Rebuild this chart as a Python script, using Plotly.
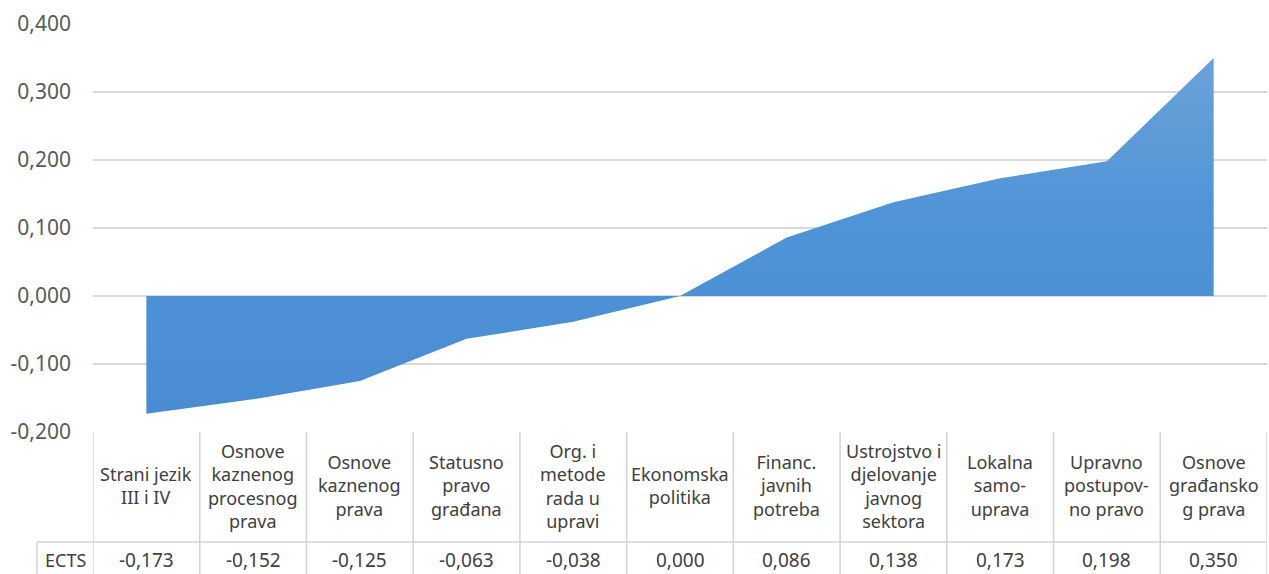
import plotly.graph_objects as go

categories = [
    "Strani jezik<br>III i IV",
    "Osnove<br>kaznenog<br>procesnog<br>prava",
    "Osnove<br>kaznenog<br>prava",
    "Statusno<br>pravo<br>građana",
    "Org. i<br>metode<br>rada u<br>upravi",
    "Ekonomska<br>politika",
    "Financ.<br>javnih<br>potreba",
    "Ustrojstvo i<br>djelovanje<br>javnog<br>sektora",
    "Lokalna<br>samo-<br>uprava",
    "Upravno<br>postupov-<br>no pravo",
    "Osnove<br>građansko<br>g prava",
]
ects = [-0.173, -0.152, -0.125, -0.063, -0.038, 0.000, 0.086, 0.138, 0.173, 0.198, 0.350]
series_name = "ECTS"
y_tickvals = [-0.2, -0.1, 0.0, 0.1, 0.2, 0.3, 0.4]
y_ticktext = ["-0,200", "-0,100", "0,000", "0,100", "0,200", "0,300", "0,400"]

FONT = "Noto Sans"
TXT = "#404040"
GRID = "#d9d9d9"
TBL = "#d4d4d4"

xs = list(range(len(categories)))

fig = go.Figure()
fig.add_trace(go.Scatter(
    x=xs, y=ects, mode="lines", fill="tozeroy",
    line=dict(width=0, color="#4f93d6"),
    fillgradient=dict(type="vertical",
                      colorscale=[[0, "#4a8cd2"], [0.55, "#4f94d7"], [1, "#6aa2d8"]]),
    name=series_name, showlegend=False, hoverinfo="skip",
))

# Table geometry (paper coords outside the plot area)
row_sep = -0.2696
tbl_bottom = -0.36
label_mid = -0.132
value_mid = -0.313
ects_left_paper = -0.0477

shapes = []
for i in range(len(categories) + 1):
    shapes.append(dict(type="line", xref="x", yref="paper", x0=i - 0.5, x1=i - 0.5,
                       y0=0, y1=tbl_bottom, line=dict(color=TBL, width=1.5), layer="below"))
shapes.append(dict(type="line", xref="paper", yref="paper", x0=ects_left_paper, x1=1,
                   y0=row_sep, y1=row_sep, line=dict(color=TBL, width=1.5), layer="below"))
shapes.append(dict(type="line", xref="paper", yref="paper", x0=ects_left_paper, x1=ects_left_paper,
                   y0=row_sep, y1=tbl_bottom, line=dict(color=TBL, width=1.5), layer="below"))

annotations = []
for i, (c, v) in enumerate(zip(categories, ects)):
    annotations.append(dict(x=i, y=label_mid, xref="x", yref="paper", text=c, showarrow=False,
                            font=dict(family=FONT, size=18, color=TXT), align="center",
                            xanchor="center", yanchor="middle"))
    annotations.append(dict(x=i, y=value_mid, xref="x", yref="paper",
                            text=f"{v:.3f}".replace(".", ","), showarrow=False,
                            font=dict(family=FONT, size=19, color=TXT),
                            xanchor="center", yanchor="middle"))
annotations.append(dict(x=ects_left_paper / 2, y=value_mid, xref="paper", yref="paper",
                        text=series_name, showarrow=False,
                        font=dict(family=FONT, size=18, color=TXT),
                        xanchor="center", yanchor="middle"))

fig.update_layout(
    width=1269, height=574,
    margin=dict(l=93, r=2, t=24, b=142),
    paper_bgcolor="white", plot_bgcolor="white",
    shapes=shapes, annotations=annotations,
    xaxis=dict(range=[-0.5, len(categories) - 0.5], showticklabels=False, showgrid=False,
               zeroline=False, showline=False, fixedrange=True),
    yaxis=dict(range=[-0.2, 0.4], tickvals=y_tickvals, ticktext=y_ticktext,
               showgrid=True, gridcolor=GRID, gridwidth=1.5, zeroline=False,
               showline=False, ticklabelstandoff=21, fixedrange=True,
               tickfont=dict(family=FONT, size=21, color="#595959")),
)

fig.write_html("out.html", config={"displayModeBar": False},
               post_script="document.body.style.margin='0';document.body.style.overflow='hidden';")
